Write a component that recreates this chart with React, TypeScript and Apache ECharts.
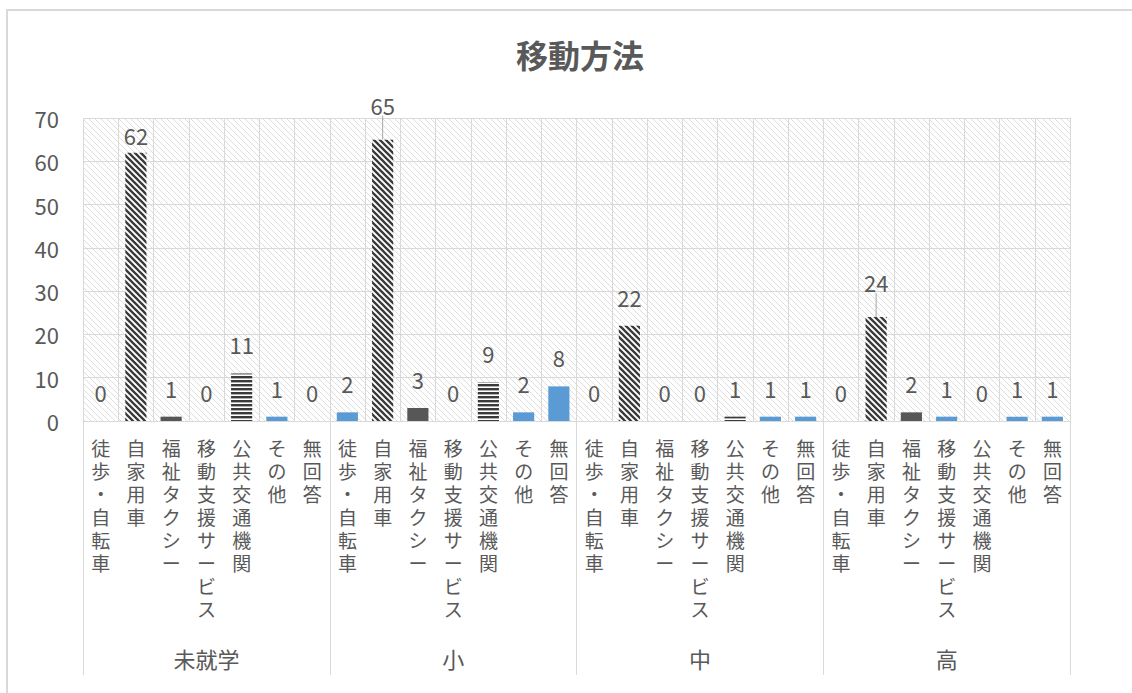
import React, { useEffect, useRef } from 'react';
import * as echarts from 'echarts';

// ---- data ----
const groups = ['未就学', '小', '中', '高'];
const methods = ['徒歩・自転車', '自家用車', '福祉タクシー', '移動支援サービス', '公共交通機関', 'その他', '無回答'];
const preschool = [0, 62, 1, 0, 11, 1, 0];
const elementary = [2, 65, 3, 0, 9, 2, 8];
const juniorHigh = [0, 22, 0, 0, 1, 1, 1];
const highSchool = [0, 24, 2, 1, 0, 1, 1];
const yMin = 0;
const yMax = 70;
const yStep = 10;

const FONT = '"Noto Sans CJK JP", "Noto Sans", sans-serif';
const TEXT = '#595959';
const GRID = '#d9d9d9';
const BLUE = '#5B9BD5';

function makeCanvas(w: number, h: number, draw: (ctx: CanvasRenderingContext2D) => void) {
  const c = document.createElement('canvas');
  c.width = w;
  c.height = h;
  const ctx = c.getContext('2d') as CanvasRenderingContext2D;
  draw(ctx);
  return c;
}

function diagonal(s: number, color: string, width: number) {
  const c = makeCanvas(s, s, (ctx) => {
    ctx.fillStyle = '#ffffff';
    ctx.fillRect(0, 0, s, s);
    ctx.strokeStyle = color;
    ctx.lineWidth = width;
    ctx.beginPath();
    for (const k of [-s, 0, s]) {
      ctx.moveTo(-1, k - 1);
      ctx.lineTo(s + 1, s + k + 1);
    }
    ctx.stroke();
  });
  return { image: c, repeat: 'repeat', imageWidth: s, imageHeight: s } as any;
}

function horizontal(h: number, dark: number, color: string) {
  const c = makeCanvas(4, h, (ctx) => {
    ctx.fillStyle = '#ffffff';
    ctx.fillRect(0, 0, 4, h);
    ctx.fillStyle = color;
    ctx.fillRect(0, 0, 4, dark);
  });
  return { image: c, repeat: 'repeat', imageWidth: 4, imageHeight: h } as any;
}

export default function App() {
  const ref = useRef<HTMLDivElement>(null);

  useEffect(() => {
    if (!ref.current) return;
    const chart = echarts.init(ref.current, undefined, { renderer: 'svg' });

    const bgPattern = diagonal(6, '#dedede', 1);
    const carPattern = diagonal(6, '#3a3a3a', 2.3);
    const stripePattern = horizontal(4, 2.4, '#3a3a3a');

    const methodColor = (m: number): any => {
      if (m === 1) return carPattern;
      if (m === 2) return '#575757';
      if (m === 4) return stripePattern;
      return BLUE;
    };

    const allValues = [preschool, elementary, juniorHigh, highSchool];
    const categories: string[] = [];
    const values: number[] = [];
    groups.forEach((g, gi) => {
      methods.forEach((m, mi) => {
        categories.push(g + '|' + m);
        values.push(allValues[gi][mi]);
      });
    });

    // label adjustments (Excel moved a few labels)
    const labelShift: Record<number, number> = { 1: 11, 8: -6, 22: -6 };
    const leader = new Set([8, 22]);

    const data = values.map((v, i) => {
      const item: any = { value: v, itemStyle: { color: methodColor(i % methods.length) } };
      if (leader.has(i)) {
        item.labelLine = { show: true, lineStyle: { color: '#a6a6a6', width: 1 } };
      }
      return item;
    });

    chart.setOption({
      animation: false,
      textStyle: { fontFamily: FONT },
      title: {
        text: '移動方法',
        left: 575,
        textAlign: 'center',
        top: 33,
        textStyle: { fontSize: 32, fontWeight: 'bold', color: TEXT, fontFamily: FONT },
      },
      graphic: [
        {
          type: 'rect',
          silent: true,
          shape: { x: 7, y: 10, width: 1300, height: 900 },
          style: { fill: 'none', stroke: GRID, lineWidth: 2 },
        },
      ],
      grid: {
        left: 83,
        right: 62,
        top: 118,
        bottom: 272,
        show: true,
        borderWidth: 0,
        backgroundColor: bgPattern,
      },
      xAxis: [
        {
          type: 'category',
          position: 'bottom',
          data: categories,
          axisTick: { show: false },
          axisLine: { lineStyle: { color: GRID, width: 1 } },
          splitLine: { show: true, interval: 0, lineStyle: { color: GRID, width: 1 } },
          axisLabel: {
            interval: 0,
            margin: 15,
            fontSize: 19,
            lineHeight: 23,
            color: TEXT,
            fontFamily: FONT,
            verticalAlign: 'top',
            formatter: (_v: string, i: number) => methods[i % methods.length].split('').join('\n'),
          },
        },
        {
          type: 'category',
          position: 'bottom',
          data: groups,
          axisLine: { show: false },
          axisTick: { show: true, interval: 0, length: 254, lineStyle: { color: GRID, width: 1 } },
          splitLine: { show: false },
          axisLabel: { margin: 226, fontSize: 22, color: TEXT, fontFamily: FONT, interval: 0 },
        },
      ],
      yAxis: {
        type: 'value',
        min: yMin,
        max: yMax,
        interval: yStep,
        axisLine: { show: false },
        axisTick: { show: false },
        splitLine: { lineStyle: { color: GRID, width: 1 } },
        axisLabel: { fontSize: 22, color: TEXT, margin: 24, fontFamily: FONT },
      },
      series: [
        {
          type: 'bar',
          xAxisIndex: 0,
          yAxisIndex: 0,
          barWidth: '60%',
          data,
          label: {
            show: true,
            position: 'top',
            distance: 18,
            fontSize: 22,
            color: TEXT,
            fontFamily: FONT,
          },
          labelLayout: (params: any) => {
            const dy = labelShift[params.dataIndex];
            return dy ? { dy } : {};
          },
        },
      ],
    });

    return () => chart.dispose();
  }, []);

  return (
    <div
      ref={ref}
      style={{ position: 'fixed', left: 0, top: 0, width: 1132, height: 693, background: '#ffffff' }}
    />
  );
}
